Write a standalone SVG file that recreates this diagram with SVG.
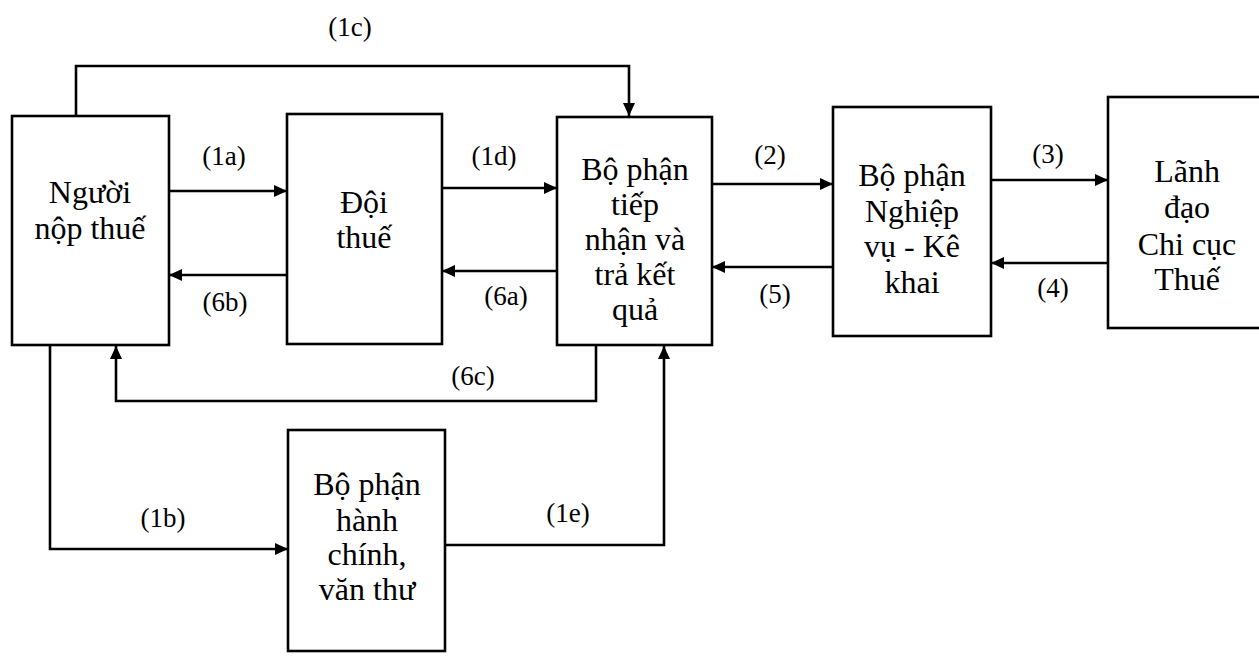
<svg xmlns="http://www.w3.org/2000/svg" width="1259" height="656" viewBox="0 0 1259 656">
<style>
.box{fill:#fff;stroke:#000;stroke-width:2.6}
.t{font-family:"Liberation Serif","Times New Roman",serif;font-size:32px;fill:#000;text-anchor:middle}
.l{font-family:"Liberation Serif","Times New Roman",serif;font-size:27px;fill:#000;text-anchor:middle}
.c{fill:none;stroke:#000;stroke-width:2.6}
</style>
<defs>
<marker id="ah" markerUnits="userSpaceOnUse" markerWidth="13" markerHeight="12" refX="13" refY="6" orient="auto">
<path d="M0,0 L13,6 L0,12 z" fill="#000"/>
</marker>
</defs>
<rect width="1259" height="656" fill="#fff"/>
<g id="connectors">
<path class="c" d="M76,116 V66 H629 V116" marker-end="url(#ah)"/>
<path class="c" d="M169,191 H287" marker-end="url(#ah)"/>
<path class="c" d="M287,275 H169" marker-end="url(#ah)"/>
<path class="c" d="M442,188 H557" marker-end="url(#ah)"/>
<path class="c" d="M557,271 H442" marker-end="url(#ah)"/>
<path class="c" d="M712,184 H833" marker-end="url(#ah)"/>
<path class="c" d="M833,267 H712" marker-end="url(#ah)"/>
<path class="c" d="M991,180 H1108" marker-end="url(#ah)"/>
<path class="c" d="M1108,263 H991" marker-end="url(#ah)"/>
<path class="c" d="M596,345 V401 H116 V346" marker-end="url(#ah)"/>
<path class="c" d="M50,345 V549 H288" marker-end="url(#ah)"/>
<path class="c" d="M445,545 H664 V346" marker-end="url(#ah)"/>
<text class="l" x="350" y="36">(1c)</text>
<text class="l" x="224" y="165">(1a)</text>
<text class="l" x="225" y="311">(6b)</text>
<text class="l" x="494" y="165">(1d)</text>
<text class="l" x="506" y="305">(6a)</text>
<text class="l" x="770" y="164">(2)</text>
<text class="l" x="775" y="303">(5)</text>
<text class="l" x="1048" y="163">(3)</text>
<text class="l" x="1053" y="297">(4)</text>
<text class="l" x="473" y="385">(6c)</text>
<text class="l" x="163" y="527">(1b)</text>
<text class="l" x="568" y="522">(1e)</text>
</g>
<g id="nguoi-nop-thue">
<rect class="box" x="12" y="116" width="157" height="229"/>
<text class="t" x="90" y="203">Người</text>
<text class="t" x="90" y="239">nộp thuế</text>
</g>
<g id="doi-thue">
<rect class="box" x="287" y="114" width="155" height="230"/>
<text class="t" x="364" y="213">Đội</text>
<text class="t" x="364" y="248">thuế</text>
</g>
<g id="tiep-nhan">
<rect class="box" x="557" y="117" width="155" height="228"/>
<text class="t" x="635" y="180">Bộ phận</text>
<text class="t" x="635" y="215">tiếp</text>
<text class="t" x="635" y="250">nhận và</text>
<text class="t" x="635" y="285">trả kết</text>
<text class="t" x="635" y="320">quả</text>
</g>
<g id="nghiep-vu">
<rect class="box" x="833" y="107" width="158" height="229"/>
<text class="t" x="912" y="186">Bộ phận</text>
<text class="t" x="912" y="222">Nghiệp</text>
<text class="t" x="912" y="257">vụ - Kê</text>
<text class="t" x="912" y="293">khai</text>
</g>
<g id="lanh-dao">
<rect class="box" x="1108" y="97" width="160" height="231"/>
<text class="t" x="1187" y="182">Lãnh</text>
<text class="t" x="1187" y="218">đạo</text>
<text class="t" x="1187" y="255">Chi cục</text>
<text class="t" x="1187" y="290">Thuế</text>
</g>
<g id="hanh-chinh">
<rect class="box" x="288" y="430" width="157" height="221"/>
<text class="t" x="367" y="495">Bộ phận</text>
<text class="t" x="367" y="531">hành</text>
<text class="t" x="367" y="565">chính,</text>
<text class="t" x="367" y="600">văn thư</text>
</g>
</svg>
